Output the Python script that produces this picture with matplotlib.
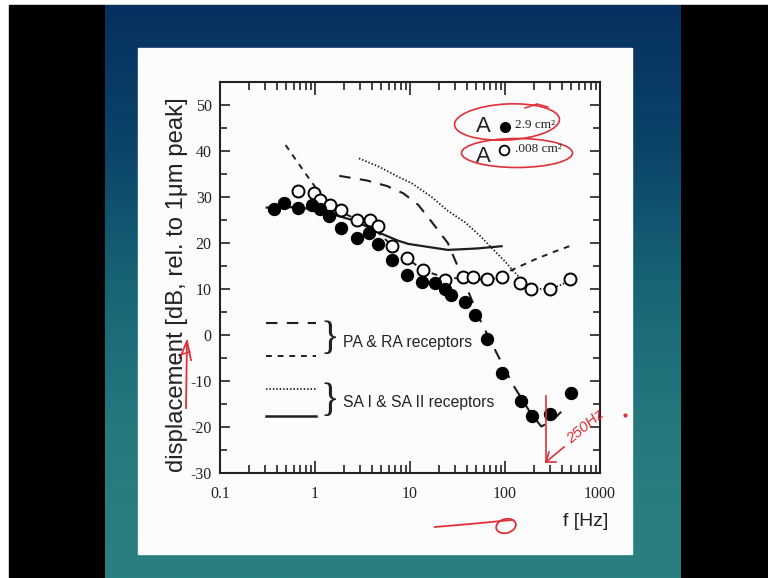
import numpy as np
import matplotlib
matplotlib.use("Agg")
import matplotlib.pyplot as plt
from matplotlib.patches import Rectangle, Ellipse
from matplotlib.colors import LinearSegmentedColormap
from matplotlib.ticker import LogLocator, NullFormatter, FixedLocator

# ---------------- data ----------------
filled_f = [0.37, 0.47, 0.66, 0.94, 1.14, 1.39, 1.88, 2.8, 3.7, 4.62, 6.5, 9.3,
            13.5, 18.3, 23.3, 27, 37.8, 48, 65, 92, 147, 194, 300, 490]
filled_db = [27.4, 28.7, 27.6, 28.2, 27.3, 25.8, 23.3, 21.0, 22.2, 19.8, 16.3, 13.0,
             11.6, 11.4, 10.0, 8.6, 7.2, 4.3, -0.9, -8.3, -14.3, -17.6, -17.2, -12.7]

open_f = [0.66, 0.97, 1.14, 1.43, 1.86, 2.76, 3.8, 4.66, 6.43, 9.2, 13.8, 23.3,
          36, 46, 65, 92, 143, 189, 295, 479]
open_db = [31.4, 30.8, 29.3, 28.2, 27.2, 25.0, 25.0, 23.6, 19.3, 16.7, 14.1, 12.0,
           12.7, 12.7, 12.1, 12.7, 11.2, 10.1, 9.9, 12.1]

pa_f = [1.8, 3.5, 5.7, 8.5, 12.2, 16.9, 25, 36, 54, 74, 122, 180, 241, 320, 420]
pa_db = [34.6, 33.6, 32.4, 30.8, 28.3, 24.6, 20.0, 12.3, 3.5, -2.2, -10.9, -16.5, -19.9, -18.5, -16.0]

ra_f = [0.49, 0.8, 1.3, 2.0, 4.0, 6.4, 9.2, 14, 23, 40, 65, 92, 117, 200, 320, 520]
ra_db = [41.3, 35.0, 29.0, 26.5, 23.5, 19.5, 16.7, 14.0, 12.5, 12.2, 12.0, 12.5, 14.1, 16.3, 18.0, 19.6]

sa1_f = [2.9, 4.7, 7.5, 10.4, 16.9, 25, 38, 55, 72, 100, 120, 150, 190, 240, 300, 400, 480]
sa1_db = [38.4, 36.6, 34.4, 33.0, 30.0, 27.0, 24.5, 21.5, 19.0, 16.0, 14.1, 12.0, 10.3, 10.0, 10.0, 11.0, 12.0]

sa2_f = [0.31, 0.6, 1.0, 1.5, 2.65, 4.66, 7.5, 9.6, 25, 50, 92]
sa2_db = [27.7, 27.8, 27.3, 26.3, 24.8, 22.3, 20.5, 19.8, 18.5, 18.8, 19.3]

x_ticks = [0.1, 1, 10, 100, 1000]
x_ticklabels = ["0.1", "1", "10", "100", "1000"]
y_ticks = [-30, -20, -10, 0, 10, 20, 30, 40, 50]
y_ticklabels = ["-30", "-20", "-10", "0", "10", "20", "30", "40", "50"]

# ---------------- figure & slide background ----------------
W, H = 768, 578
fig = plt.figure(figsize=(7.68, 5.78), dpi=100)

bg = fig.add_axes([0, 0, 1, 1], zorder=0)
bg.axis("off")
bg.add_patch(Rectangle((0, 0), W, H, color="white", zorder=0.1))
bg.add_patch(Rectangle((9, 5), W - 9, H - 5, color="black", zorder=0.2))
cmap = LinearSegmentedColormap.from_list(
    "slide", ["#06305f", "#0b4469", "#176676", "#267a7e", "#2a8080"])
grad = np.linspace(0, 1, 256).reshape(-1, 1)
bg.imshow(grad, extent=(105, 681, 578, 5), aspect="auto", cmap=cmap,
          interpolation="bilinear", zorder=0.5)
bg.add_patch(Rectangle((138, 48), 494, 506, color="#fcfcfc", zorder=1))
bg.set_xlim(0, W)
bg.set_ylim(H, 0)

# ---------------- main plot ----------------
ax = fig.add_axes([220 / W, 1 - 473 / H, 380 / W, 391 / H], zorder=2)
ax.patch.set_visible(False)
ax.set_xscale("log")
ax.set_xlim(0.1, 1000)
ax.set_ylim(-30, 55)

lc = "#1e1e1e"
ax.plot(pa_f, pa_db, color=lc, lw=1.5, dashes=(5.5, 4.5), zorder=3)
ax.plot(ra_f, ra_db, color=lc, lw=1.4, dashes=(3, 3), zorder=3)
ax.plot(sa1_f, sa1_db, color=lc, lw=1.3, dashes=(0.8, 1.1), zorder=3)
ax.plot(sa2_f, sa2_db, color=lc, lw=1.6, zorder=3)

ax.plot(open_f, open_db, "o", ms=8.6, mfc="white", mec="black", mew=1.4, zorder=4, ls="none")
ax.plot(filled_f, filled_db, "o", ms=8.6, mfc="black", mec="black", zorder=5, ls="none")

ax.set_xticks(x_ticks)
ax.set_xticklabels(x_ticklabels)
ax.xaxis.set_minor_locator(LogLocator(base=10, subs=np.arange(2, 10)))
ax.xaxis.set_minor_formatter(NullFormatter())
ax.set_yticks(y_ticks)
ax.set_yticklabels(y_ticklabels)
ax.yaxis.set_minor_locator(FixedLocator([-25, -15, -5, 5, 15, 25, 35, 45]))

serif = ["Liberation Serif", "DejaVu Serif"]
for lab in ax.get_xticklabels() + ax.get_yticklabels():
    lab.set_fontfamily(serif)
    lab.set_fontsize(11.5)
    lab.set_color("#222222")

ax.tick_params(axis="both", which="both", direction="in", top=True, right=True,
               width=1.2, color="#222222")
ax.tick_params(axis="x", which="major", length=9, pad=9)
ax.tick_params(axis="x", which="minor", length=5.5)
ax.tick_params(axis="y", which="major", length=7.5, pad=6)
ax.tick_params(axis="y", which="minor", length=5)
for s in ax.spines.values():
    s.set_linewidth(1.5)
    s.set_color("#222222")

# ---------------- overlay: labels, legends, annotations ----------------
ov = fig.add_axes([0, 0, 1, 1], zorder=6)
ov.patch.set_visible(False)
ov.axis("off")
ov.set_xlim(0, W)
ov.set_ylim(H, 0)

sans = ["Liberation Sans", "DejaVu Sans"]

ov.text(177, 285, "displacement [dB, rel. to 1\u03bcm peak]", rotation=90,
        ha="center", va="center", fontsize=17.2, family=sans, color="#222222")
ov.text(586, 522, "f [Hz]", ha="center", va="center", fontsize=14,
        family=sans, color="#222222")

# line-style legend
ov.plot([266, 316], [323, 323], color=lc, lw=1.5, dashes=(5.5, 4.5))
ov.plot([266, 316], [356, 356], color=lc, lw=1.4, dashes=(3, 3))
ov.plot([266, 316], [389, 389], color=lc, lw=1.3, dashes=(0.8, 1.1))
ov.plot([266, 316], [416, 416], color=lc, lw=1.8)
ov.text(330, 339, "}", ha="center", va="center", fontsize=28, family=serif,
        color="#222222")
ov.text(330, 401, "}", ha="center", va="center", fontsize=28, family=serif,
        color="#222222")
ov.text(343, 343, "PA & RA receptors", ha="left", va="center", fontsize=11.3,
        family=sans, color="#222222")
ov.text(343, 402, "SA I & SA II receptors", ha="left", va="center", fontsize=11.3,
        family=sans, color="#222222")

# marker legend
ov.text(483, 127, "A", ha="center", va="center", fontsize=16, family=sans, color="#222222")
ov.text(483, 157, "A", ha="center", va="center", fontsize=16, family=sans, color="#222222")
ov.plot([505], [127], "o", ms=7, mfc="black", mec="black")
ov.plot([504], [150], "o", ms=7, mfc="white", mec="black", mew=1.3)
ov.text(515, 125, "2.9 cm\u00b2", ha="left", va="center", fontsize=9.5, family=serif, color="#222222")
ov.text(515, 149, ".008 cm\u00b2", ha="left", va="center", fontsize=9.5, family=serif, color="#222222")

red = "#e0303a"
ov.add_patch(Ellipse((507, 122), 105, 36, angle=-3, fill=False, ec=red, lw=1.2))
ov.plot([525, 537, 548], [108, 104, 107], color=red, lw=1.1)
ov.add_patch(Ellipse((517, 153), 111, 29, angle=0, fill=False, ec=red, lw=1.2))

# red hand annotations
ov.plot([186, 187], [408, 341], color=red, lw=1.3)
ov.plot([180, 187, 191], [358, 341, 360], color=red, lw=1.3)
ov.plot([179, 190], [355, 352], color=red, lw=1.1)

ov.plot([546, 546], [396, 462], color=red, lw=1.2)
ov.plot([564, 546], [447, 462], color=red, lw=1.2)
ov.plot([549, 546, 556], [452, 462, 462], color=red, lw=1.2)
ov.text(585, 427, "250Hz", rotation=40, ha="center", va="center", fontsize=11,
        family=sans, style="italic", color=red)
ov.plot([625], [415], "o", ms=2, color=red)

ov.plot([435, 470, 512], [527, 524, 520], color=red, lw=1.3)
ov.add_patch(Ellipse((506, 526), 20, 14, angle=-15, fill=False, ec=red, lw=1.3))

fig.savefig("out.png", dpi=100)
